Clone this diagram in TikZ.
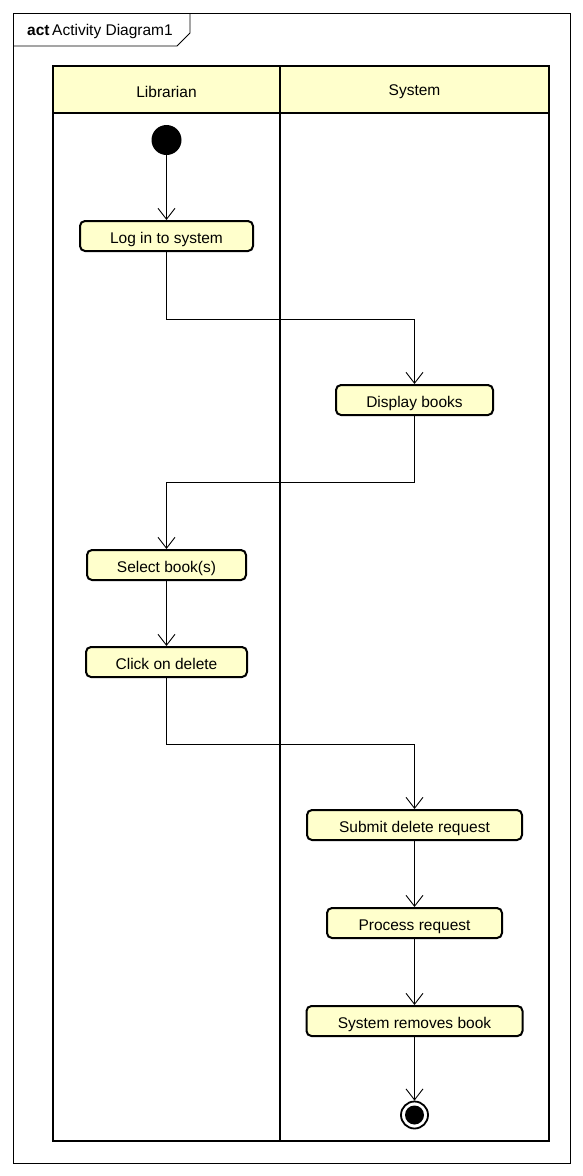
\documentclass[tikz,border=0pt]{standalone}
\usepackage{fontspec}
\setmainfont{Liberation Sans}
\usetikzlibrary{calc,arrows.meta,positioning}

\definecolor{actfill}{HTML}{FFFFCC}

\tikzset{
  action/.style={draw, rounded corners=5pt, line width=2pt, fill=actfill,
    minimum height=30pt, inner sep=0pt, text depth=0pt, text height=14pt,
    font=\fontsize{15.5}{18}\selectfont},
  flow/.style={line width=0.9pt, -{Straight Barb[length=11pt,width=17pt,line width=0.9pt]}},
  lane/.style={line width=2.4pt},
  lanehead/.style={font=\fontsize{15.5}{18}\selectfont}
}

\begin{document}
\begin{tikzpicture}[x=1pt,y=-1pt]
  \useasboundingbox (0,0) rectangle (582,1176);
  % frame
  \draw[line width=0.8pt] (13,13) rectangle (570,1163);
  \draw[line width=0.8pt] (13,46) -- (177,46) -- (190,33) -- (190,13);
  \node[anchor=west, font=\fontsize{15.5}{18}\selectfont, inner sep=0pt] (title) at (27,31)
    {\textbf{act}\,Activity Diagram1};
  % swimlanes
  \fill[actfill] (53,66) rectangle (549,113);
  \draw[lane] (53,66) rectangle (549,1141);
  \draw[lane] (53,113) -- (549,113);
  \draw[lane] (280,66) -- (280,1141);
  \node[lanehead] (librarian) at (166.5,92) {Librarian};
  \node[lanehead] (system) at (414.5,92) {System};

  % nodes
  \node[circle, fill=black, minimum size=30pt, inner sep=0pt] (start) at (166.5,140) {};
  \node[action, minimum width=173pt] (login) at (166.5,236) {Log in to system};
  \node[action, minimum width=157pt] (display) at (414.5,400) {Display books};
  \node[action, minimum width=159pt] (select) at (166.5,565) {Select book(s)};
  \node[action, minimum width=161pt] (click) at (166.5,662) {Click on delete};
  \node[action, minimum width=215pt] (submit) at (414.5,825) {Submit delete request};
  \node[action, minimum width=175pt] (process) at (414.5,923) {Process request};
  \node[action, minimum width=216pt] (removes) at (414.5,1021) {System removes book};
  \node[circle, draw, line width=1.8pt, fill=white, minimum size=27pt, inner sep=0pt] (final) at (414.5,1115) {};
  \fill (final.center) circle (9.5pt);

  % connectors
  \draw[flow] (start) -- (login);
  \draw[flow] (login.south) -- ++(0,67) -| (display.north);
  \draw[flow] (display.south) -- ++(0,66) -| (select.north);
  \draw[flow] (select) -- (click);
  \draw[flow] (click.south) -- ++(0,66) -| (submit.north);
  \draw[flow] (submit) -- (process);
  \draw[flow] (process) -- (removes);
  \draw[flow] (removes) -- (final);
\end{tikzpicture}
\end{document}
